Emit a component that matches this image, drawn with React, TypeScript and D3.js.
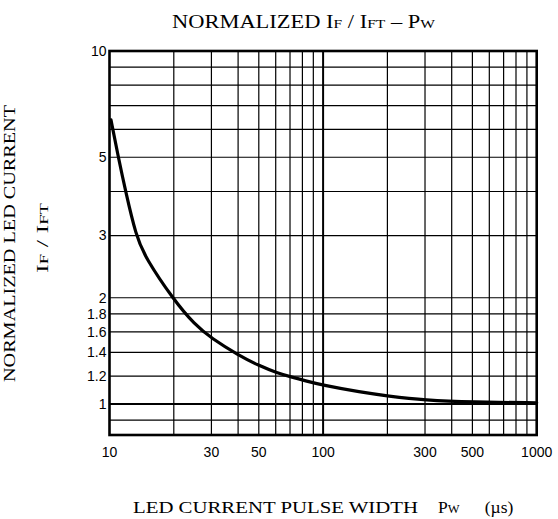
import React from 'react';
import * as d3 from 'd3';

// curve: pulse width (µs) -> normalized IF/IFT
const pulseWidth = [10.16, 11.0, 11.9, 13.3, 14.7, 20, 25, 30, 40, 50.5, 60.8, 72, 82, 100, 150, 200, 300, 500, 1000];
const ratio = [6.38, 5.0, 4.0, 3.0, 2.6, 1.97, 1.68, 1.535, 1.377, 1.281, 1.226, 1.19, 1.165, 1.13, 1.08, 1.054, 1.025, 1.012, 1.008];

const xTickLabels = [10, 30, 50, 100, 300, 500, 1000];
const yTickLabels = [1, 1.2, 1.4, 1.6, 1.8, 2, 3, 5, 10];
const xGrid = [20, 30, 40, 50, 60, 70, 80, 90, 100, 200, 300, 400, 500, 600, 700, 800, 900];
const yGrid = [0.9, 1, 1.2, 1.4, 1.6, 1.8, 2, 3, 4, 5, 6, 7, 8, 9];

const W = 558;
const H = 519;
const margin = { top: 51, right: 21.3, bottom: 84, left: 109.5 };

const App: React.FC = () => {
	const innerW = W - margin.left - margin.right;
	const innerH = H - margin.top - margin.bottom;

	const x = d3.scaleLog().domain([10, 1000]).range([0, innerW]);
	const y = d3.scaleLog().domain([0.817, 10]).range([innerH, 0]);

	const line = d3
		.line<number>()
		.x((d, i) => x(pulseWidth[i]))
		.y((d) => y(d))
		.curve(d3.curveBasis);

	const sans = 'Liberation Sans, Arial, sans-serif';
	const serif = 'Liberation Serif, Times New Roman, serif';

	return (
		<svg width={W} height={H} style={{ position: 'absolute', left: 0, top: 0, background: '#fff' }}>
			{/* title */}
			<text x={172} y={28} fontFamily={serif} fontSize={19.5} textLength={263} lengthAdjust="spacingAndGlyphs">
				NORMALIZED I<tspan fontSize={13.5}>F</tspan> / I<tspan fontSize={13.5}>FT</tspan> – P
				<tspan fontSize={13.5}>W</tspan>
			</text>

			<g transform={`translate(${margin.left},${margin.top})`}>
				{/* grid */}
				{xGrid.map((v) => (
					<line
						key={'gx' + v}
						x1={x(v)}
						x2={x(v)}
						y1={0}
						y2={innerH}
						stroke="#000"
						strokeWidth={v === 100 ? 2 : 1.2}
					/>
				))}
				{yGrid.map((v) => (
					<line
						key={'gy' + v}
						x1={0}
						x2={innerW}
						y1={y(v)}
						y2={y(v)}
						stroke="#000"
						strokeWidth={v === 1 ? 2.2 : 1.2}
					/>
				))}
				<rect x={0} y={0} width={innerW} height={innerH} fill="none" stroke="#000" strokeWidth={2.6} />

				{/* curve */}
				<path d={line(ratio) ?? ''} fill="none" stroke="#000" strokeWidth={3.2} strokeLinecap="round" />

				{/* tick labels */}
				{yTickLabels.map((v) => (
					<text
						key={'ty' + v}
						x={-3}
						y={y(v)}
						dy="0.35em"
						textAnchor="end"
						fontFamily={sans}
						fontSize={14}>
						{v}
					</text>
				))}
				{xTickLabels.map((v) => (
					<text
						key={'tx' + v}
						x={x(v)}
						y={innerH + 22}
						textAnchor="middle"
						fontFamily={sans}
						fontSize={14}>
						{v}
					</text>
				))}
			</g>

			{/* axis titles */}
			<text
				transform="translate(15,382) rotate(-90)"
				fontFamily={serif}
				fontSize={17.5}
				textLength={277}
				lengthAdjust="spacingAndGlyphs">
				NORMALIZED LED CURRENT
			</text>
			<text
				transform="translate(48,273) rotate(-90)"
				fontFamily={serif}
				fontSize={17.5}
				textLength={70}
				lengthAdjust="spacingAndGlyphs">
				I<tspan fontSize={12.5}>F</tspan> / I<tspan fontSize={12.5}>FT</tspan>
			</text>
			<text x={133} y={513} fontFamily={serif} fontSize={17.5} textLength={285} lengthAdjust="spacingAndGlyphs">
				LED CURRENT PULSE WIDTH
			</text>
			<text x={438} y={513} fontFamily={serif} fontSize={17.5}>
				P<tspan fontSize={12.5}>W</tspan>
			</text>
			<text x={499} y={513} textAnchor="middle" fontFamily={serif} fontSize={17.5}>
				(µs)
			</text>
		</svg>
	);
};

export default App;
